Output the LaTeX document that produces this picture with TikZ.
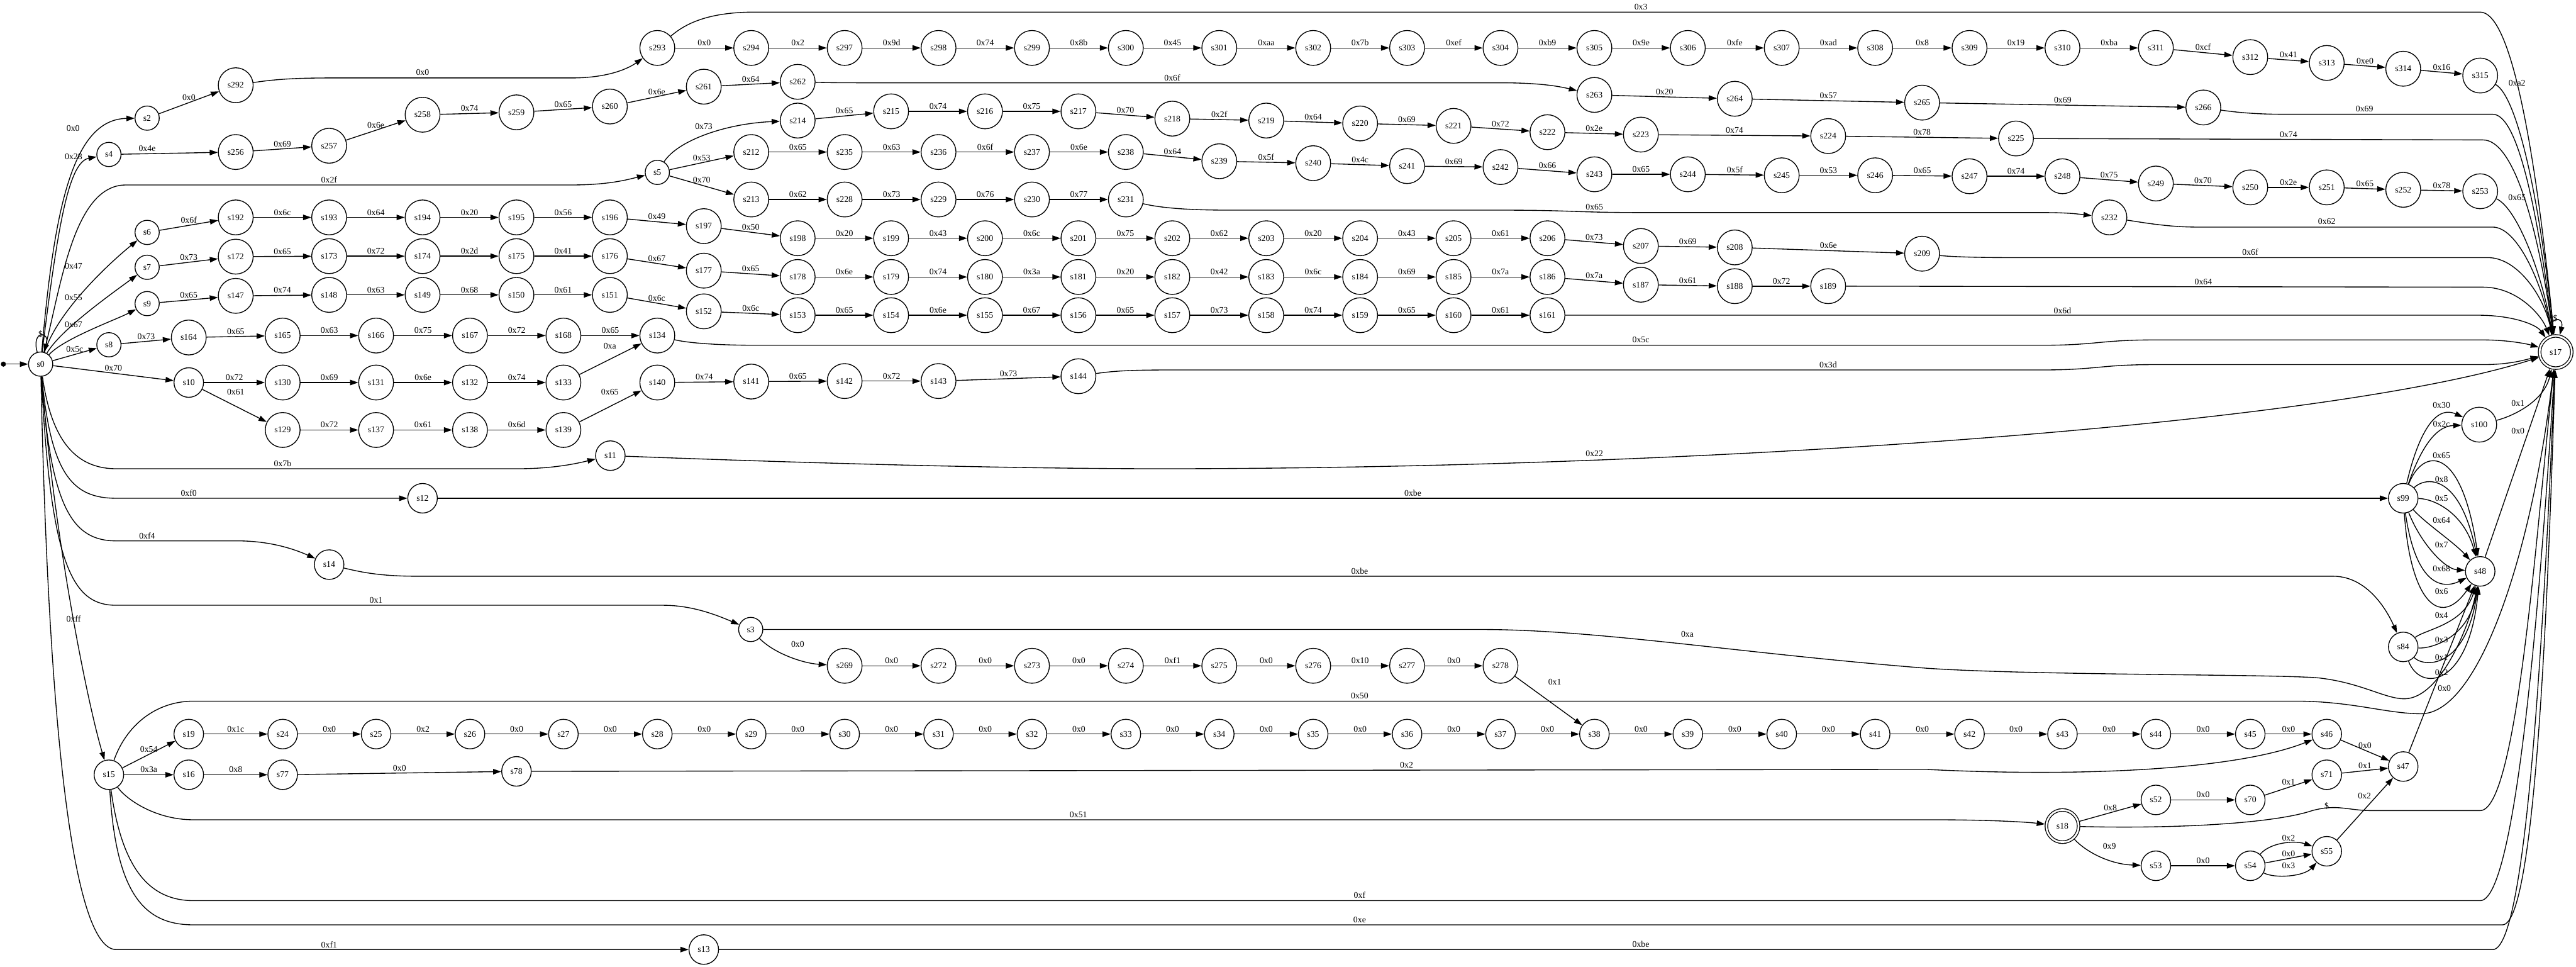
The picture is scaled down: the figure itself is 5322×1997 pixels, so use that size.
\documentclass[tikz,border=0pt]{standalone}
\usepackage{fontspec}
\setmainfont{Liberation Serif}
\usetikzlibrary{arrows.meta}

\tikzset{
  sm/.style={draw, circle, inner sep=0pt, minimum size=0.5cm},
  md/.style={draw, circle, inner sep=0pt, minimum size=0.61cm},
  lg/.style={draw, circle, inner sep=0pt, minimum size=0.72cm},
  fin/.style={draw, circle, double, double distance=1pt, inner sep=0pt, minimum size=0.665cm, outer sep=0.9pt},
  lbl/.style={above, inner sep=1pt},
  lab/.style={inner sep=0pt},
}

\begin{document}
\begin{tikzpicture}[x=0.01cm, y=-0.01cm, line width=0.5pt, >={Triangle[length=4.8pt,width=3.2pt]}, font=\fontsize{5.1}{6}\selectfont]
\useasboundingbox (0,0) rectangle (5322,1997);

% start point and one-digit states
\node[fill, circle, inner sep=0pt, minimum size=3pt] (init) at (7,752) {};
\foreach \n/\x/\y in {0/84/752, 2/304/244, 3/1551/1300, 4/225/319, 5/1358/356, 6/304/480, 7/304/552, 8/225/712, 9/304/627}
  \node[sm] (s\n) at (\x,\y) {s\n};

% two-digit states
\foreach \n/\x/\y in {10/390/790, 11/1261/941, 12/873/1029, 13/1454/1961, 14/680/1166, 15/225/1600, 16/390/1600,
  47/4965/1583, 48/5124/1180, 52/4454/1652, 53/4454/1788, 54/4649/1788, 55/4807/1758, 70/4649/1652, 71/4807/1600,
  77/584/1600, 78/1067/1593, 84/4965/1336, 99/4965/1029}
  \node[md] (s\n) at (\x,\y) {s\n};
\foreach \n/\x in {19/390, 24/584, 25/777, 26/971, 27/1164, 28/1358, 29/1552, 30/1745, 31/1939, 32/2132, 33/2326, 34/2519,
  35/2713, 36/2907, 37/3100, 38/3294, 39/3487, 40/3681, 41/3874, 42/4069, 43/4261, 44/4454, 45/4649, 46/4807}
  \node[md] (s\n) at (\x,1516) {s\n};
\node[fin] (s17) at (5280,727) {s17};
\node[fin] (s18) at (4261,1706) {s18};

% three-digit states
\foreach \n/\x in {293/1358, 294/1552, 297/1745, 298/1939, 299/2132, 300/2326, 301/2519, 302/2713, 303/2907, 304/3100,
  305/3294, 306/3487, 307/3681, 308/3874, 309/4069, 310/4261, 311/4454}
  \node[lg] (s\n) at (\x,99) {s\n};
\foreach \n/\x/\y in {312/4649/118, 313/4807/130, 314/4965/142, 315/5124/156, 292/487/176,
  256/487/314, 257/680/301, 258/873/237, 259/1067/232, 260/1260/220, 261/1454/179, 262/1648/169, 263/3294/196,
  264/3584/204, 265/3971/212, 266/4552/222,
  214/1648/249, 215/1841/230, 216/2035/230, 217/2228/230, 218/2422/245, 219/2616/249, 220/2810/255, 221/3003/260,
  222/3197/273, 223/3390/278, 224/3777/281, 225/4165/286,
  212/1552/314, 235/1745/314, 236/1939/314, 237/2132/314, 238/2326/314, 239/2519/333, 240/2713/337, 241/2907/343,
  242/3100/345, 243/3294/360, 244/3487/360, 245/3681/362, 246/3874/362, 247/4069/364, 248/4261/364, 249/4454/379,
  250/4649/387, 251/4807/387, 252/4965/392, 253/5124/395,
  213/1552/412, 228/1745/412, 229/1939/412, 230/2132/412, 231/2326/412, 232/4358/449,
  192/487/449, 193/680/449, 194/873/449, 195/1067/449, 196/1260/449, 197/1454/467, 198/1648/492, 199/1841/492,
  200/2035/492, 201/2228/492, 202/2422/492, 203/2616/492, 204/2810/492, 205/3003/492, 206/3197/492, 207/3390/508,
  208/3584/511, 209/3971/524,
  172/487/530, 173/680/529, 174/873/529, 175/1067/529, 176/1260/529, 177/1454/559, 178/1648/572, 179/1841/572,
  180/2035/572, 181/2228/572, 182/2422/572, 183/2616/572, 184/2810/572, 185/3003/572, 186/3197/572, 187/3390/588,
  188/3584/591, 189/3777/591,
  147/487/611, 148/680/609, 149/873/609, 150/1067/609, 151/1260/609, 152/1454/643, 153/1648/651, 154/1841/651,
  155/2035/651, 156/2228/651, 157/2422/651, 158/2616/651, 159/2810/651, 160/3003/651, 161/3197/651,
  164/390/697, 165/584/693, 166/777/693, 167/971/693, 168/1164/693, 134/1358/693,
  130/584/790, 131/777/790, 132/971/790, 133/1164/790, 140/1358/790, 141/1552/788, 142/1745/787, 143/1939/787, 144/2228/777,
  129/584/888, 137/777/888, 138/971/888, 139/1164/888,
  269/1745/1375, 272/1939/1375, 273/2132/1375, 274/2326/1375, 275/2519/1375, 276/2713/1375, 277/2907/1375, 278/3100/1375,
  100/5122/877}
  \node[lg] (s\n) at (\x,\y) {s\n};

\begin{scope}[->]
\draw (init) -- (s0);

% straight transitions
\foreach \i/\j/\w in {2/292/0x0,
  293/294/0x0, 294/297/0x2, 297/298/0x9d, 298/299/0x74, 299/300/0x8b, 300/301/0x45, 301/302/0xaa, 302/303/0x7b,
  303/304/0xef, 304/305/0xb9, 305/306/0x9e, 306/307/0xfe, 307/308/0xad, 308/309/0x8, 309/310/0x19, 310/311/0xba,
  311/312/0xcf, 312/313/0x41, 313/314/0xe0, 314/315/0x16,
  256/257/0x69, 257/258/0x6e, 258/259/0x74, 259/260/0x65, 260/261/0x6e, 261/262/0x64, 263/264/0x20, 264/265/0x57, 265/266/0x69,
  5/212/0x53, 5/213/0x70,
  214/215/0x65, 215/216/0x74, 216/217/0x75, 217/218/0x70, 218/219/0x2f, 219/220/0x64, 220/221/0x69, 221/222/0x72,
  222/223/0x2e, 223/224/0x74, 224/225/0x78,
  212/235/0x65, 235/236/0x63, 236/237/0x6f, 237/238/0x6e, 238/239/0x64, 239/240/0x5f, 240/241/0x4c, 241/242/0x69,
  242/243/0x66, 243/244/0x65, 244/245/0x5f, 245/246/0x53, 246/247/0x65, 247/248/0x74, 248/249/0x75, 249/250/0x70,
  250/251/0x2e, 251/252/0x65, 252/253/0x78,
  213/228/0x62, 228/229/0x73, 229/230/0x76, 230/231/0x77,
  6/192/0x6f, 192/193/0x6c, 193/194/0x64, 194/195/0x20, 195/196/0x56, 196/197/0x49, 197/198/0x50, 198/199/0x20,
  199/200/0x43, 200/201/0x6c, 201/202/0x75, 202/203/0x62, 203/204/0x20, 204/205/0x43, 205/206/0x61, 206/207/0x73,
  207/208/0x69, 208/209/0x6e,
  7/172/0x73, 172/173/0x65, 173/174/0x72, 174/175/0x2d, 175/176/0x41, 176/177/0x67, 177/178/0x65, 178/179/0x6e,
  179/180/0x74, 180/181/0x3a, 181/182/0x20, 182/183/0x42, 183/184/0x6c, 184/185/0x69, 185/186/0x7a, 186/187/0x7a,
  187/188/0x61, 188/189/0x72,
  9/147/0x65, 147/148/0x74, 148/149/0x63, 149/150/0x68, 150/151/0x61, 151/152/0x6c, 152/153/0x6c, 153/154/0x65,
  154/155/0x6e, 155/156/0x67, 156/157/0x65, 157/158/0x73, 158/159/0x74, 159/160/0x65, 160/161/0x61,
  0/8/0x5c, 0/10/0x70, 8/164/0x73, 164/165/0x65, 165/166/0x63, 166/167/0x75, 167/168/0x72, 168/134/0x65,
  10/130/0x72, 130/131/0x69, 131/132/0x6e, 132/133/0x74, 129/137/0x72, 137/138/0x61, 138/139/0x6d,
  140/141/0x74, 141/142/0x65, 142/143/0x72, 143/144/0x73, 12/99/0xbe,
  269/272/0x0, 272/273/0x0, 273/274/0x0, 274/275/0xf1, 275/276/0x0, 276/277/0x10, 277/278/0x0,
  19/24/0x1c, 24/25/0x0, 25/26/0x2, 26/27/0x0, 27/28/0x0, 28/29/0x0, 29/30/0x0, 30/31/0x0, 31/32/0x0, 32/33/0x0,
  33/34/0x0, 34/35/0x0, 35/36/0x0, 36/37/0x0, 37/38/0x0, 38/39/0x0, 39/40/0x0, 40/41/0x0, 41/42/0x0, 42/43/0x0,
  43/44/0x0, 44/45/0x0, 45/46/0x0,
  15/19/0x54, 15/16/0x3a, 16/77/0x8, 77/78/0x0,
  46/47/0x0, 70/71/0x1, 71/47/0x1, 52/70/0x0, 18/52/0x8, 53/54/0x0, 54/55/0x0}
  \draw (s\i) -- node[lbl] {\w} (s\j);

% straight transitions with shifted labels
\draw (s4) -- (s256);
\draw (s10) -- (s129);
\draw (s133) -- (s134);
\draw (s139) -- (s140);
\draw (s278) -- (s38);
\draw (s55) -- (s47);
\draw (s47) -- (s48);
\draw (s48) -- (s17);

% transitions out of s0
\draw (s0) .. controls +(-20,-70) and +(20,-70) .. (s0);
\draw (s0) .. controls (112,430) and (150,246) .. (s2);
\draw (s0) .. controls (118,480) and (140,335) .. (s4);
\draw (s0) .. controls (125,600) and (150,382) .. (260,382) -- (1180,382) .. controls (1260,382) and (1300,370) .. (s5);
\draw (s0) .. controls (120,640) and (230,540) .. (s6);
\draw (s0) .. controls (125,680) and (240,600) .. (s7);
\draw (s0) .. controls (130,700) and (240,660) .. (s9);
\draw (s0) .. controls (105,900) and (150,968) .. (240,968) -- (1070,968) .. controls (1150,968) and (1200,955) .. (s11);
\draw (s0) .. controls (105,980) and (150,1029) .. (240,1029) -- (s12);
\draw (s0) .. controls (105,1050) and (150,1117) .. (240,1117) -- (490,1117) .. controls (560,1117) and (610,1135) .. (s14);
\draw (s0) .. controls (105,1170) and (150,1250) .. (240,1250) -- (1370,1250) .. controls (1430,1250) and (1480,1270) .. (s3);
\draw (s0) .. controls (110,1100) and (180,1450) .. (s15);
\draw (s0) .. controls (100,1500) and (150,1961) .. (240,1961) -- (s13);

% other bent transitions
\draw (s292) .. controls (560,165) and (600,161) .. (680,161) -- (1180,161) .. controls (1260,161) and (1300,140) .. (s293);
\draw (s262) .. controls (1720,171) and (1760,171) .. (1840,171) -- (3100,171) .. controls (3180,171) and (3220,178) .. (s263);
\draw (s5) .. controls (1400,290) and (1500,255) .. (s214);
\draw (s231) .. controls (2400,430) and (2460,434) .. (2540,434) -- (3100,434) .. controls (3250,434) and (3250,439) .. (3400,439) -- (4220,439) .. controls (4280,439) and (4300,443) .. (s232);
\draw (s14) .. controls (740,1180) and (780,1190) .. (860,1190) -- (4820,1190) .. controls (4900,1190) and (4940,1280) .. (s84);
\draw (s3) .. controls (1600,1350) and (1660,1370) .. (s269);
\draw (s3) -- (3060,1300) .. controls (3300,1300) and (3600,1350) .. (3980,1380) .. controls (4200,1395) and (4700,1392) .. (4790,1400) .. controls (4880,1410) and (4930,1445) .. (4970,1443) .. controls (5040,1440) and (5100,1300) .. (s48);
\draw (s78) -- (3980,1589) .. controls (4300,1605) and (4620,1590) .. (s46);
\draw (s15) .. controls (260,1650) and (320,1693) .. (400,1693) -- (4000,1693) .. controls (4100,1693) and (4180,1697) .. (s18);
\draw (s18) .. controls (4310,1760) and (4360,1785) .. (s53);
\draw (s54) .. controls (4690,1740) and (4740,1735) .. (s55);
\draw (s54) .. controls (4700,1815) and (4760,1810) .. (s55);

% into s100 and s48
\draw (s99) .. controls (4995,900) and (5030,835) .. (s100);
\draw (s99) .. controls (5000,930) and (5030,880) .. (s100);
\draw (s99) .. controls (5005,925) and (5085,915) .. (s48);
\draw (s99) .. controls (5010,985) and (5080,975) .. (s48);
\draw (s99) .. controls (5030,1030) and (5090,1060) .. (s48);
\draw (s99) .. controls (5010,1080) and (5070,1120) .. (s48);
\draw (s99) .. controls (5000,1120) and (5050,1175) .. (s48);
\draw (s99) .. controls (4990,1200) and (5040,1220) .. (s48);
\draw (s99) .. controls (4980,1240) and (5040,1300) .. (s48);
\draw (s84) .. controls (5010,1300) and (5090,1290) .. (s48);
\draw (s84) .. controls (5020,1340) and (5100,1320) .. (s48);
\draw (s84) .. controls (5010,1380) and (5095,1380) .. (s48);
\draw (s84) .. controls (5000,1430) and (5100,1420) .. (s48);

% into s17 from above
\draw (s17) .. controls +(-18,-75) and +(18,-75) .. (s17);
\draw (s293) .. controls (1420,45) and (1470,25) .. (1560,25) -- (5124,25) .. controls (5185,25) and (5235,280) .. (s17);
\draw (s315) .. controls (5200,200) and (5245,400) .. (s17);
\draw (s266) .. controls (4620,232) and (4660,236) .. (4720,236) -- (5150,236) .. controls (5200,236) and (5240,420) .. (s17);
\draw (s225) -- (5130,289) .. controls (5190,289) and (5240,450) .. (s17);
\draw (s253) .. controls (5200,430) and (5250,560) .. (s17);
\draw (s232) .. controls (4430,460) and (4480,469) .. (4540,469) -- (5150,469) .. controls (5200,469) and (5250,580) .. (s17);
\draw (s209) .. controls (4030,530) and (4080,532) .. (4150,532) -- (5140,532) .. controls (5200,532) and (5255,610) .. (s17);
\draw (s189) -- (5130,593) .. controls (5200,593) and (5250,650) .. (s17);
\draw (s161) -- (5120,651) .. controls (5190,651) and (5240,670) .. (s17);
\draw (s134) .. controls (1420,708) and (1480,713) .. (1560,713) -- (4220,713) .. controls (4330,713) and (4340,702) .. (4450,702) -- (5130,702) .. controls (5180,702) and (5220,710) .. (s17);
\draw (s144) .. controls (2300,766) and (2340,764) .. (2420,764) -- (4220,764) .. controls (4330,764) and (4340,753) .. (4450,753) -- (5130,753) .. controls (5180,753) and (5210,745) .. (s17);
\draw (s11) .. controls (1500,950) and (2000,968) .. (2400,968) .. controls (3500,968) and (4800,880) .. (s17);

% into s17 from below
\draw (s100) .. controls (5190,860) and (5255,830) .. (s17);
\draw (s15) .. controls (260,1500) and (320,1448) .. (400,1448) -- (4742,1448) .. controls (4860,1448) and (4930,1474) .. (5002,1474) .. controls (5120,1474) and (5230,1150) .. (s17);
\draw (s18) .. controls (4500,1712) and (4700,1700) .. (4777,1674) .. controls (4830,1660) and (4850,1674) .. (4900,1674) -- (5124,1674) .. controls (5200,1674) and (5240,1100) .. (s17);
\draw (s15) .. controls (250,1780) and (300,1860) .. (400,1860) -- (5124,1860) .. controls (5200,1860) and (5250,1200) .. (s17);
\draw (s15) .. controls (240,1850) and (300,1910) .. (400,1910) -- (5170,1910) .. controls (5240,1910) and (5265,1200) .. (s17);
\draw (s13) -- (5150,1961) .. controls (5220,1961) and (5255,1300) .. (s17);
\end{scope}

% labels of bent transitions
\node[lab] (l0a) at (84,690) {\$};
\node[lab] (l0b) at (151,265) {0x0};
\node[lab] (l0c) at (152,323) {0x28};
\node[lab] (l0d) at (680,371) {0x2f};
\node[lab] (l0e) at (152,550) {0x47};
\node[lab] (l0f) at (152,614) {0x55};
\node[lab] (l0g) at (152,671) {0x67};
\node[lab] (l0h) at (584,957) {0x7b};
\node[lab] (l0i) at (390,1018) {0xf0};
\node[lab] (l0j) at (304,1106) {0xf4};
\node[lab] (l0k) at (777,1240) {0x1};
\node[lab] (l0l) at (152,1278) {0xff};
\node[lab] (l0m) at (680,1951) {0xf1};
\node[lab] (l4) at (304,306) {0x4e};
\node[lab] (l10) at (487,810) {0x61};
\node[lab] (l133) at (1260,714) {0xa};
\node[lab] (l139) at (1260,810) {0x65};
\node[lab] (l278) at (3212,1409) {0x1};
\node[lab] (l55) at (4885,1644) {0x2};
\node[lab] (l47) at (5050,1421) {0x0};
\node[lab] (l48) at (5202,890) {0x0};
\node[lab] (l292) at (873,150) {0x0};
\node[lab] (l262) at (2422,161) {0x6f};
\node[lab] (l5) at (1454,261) {0x73};
\node[lab] (l231) at (3294,428) {0x65};
\node[lab] (l14) at (2809,1180) {0xbe};
\node[lab] (l3a) at (1648,1330) {0x0};
\node[lab] (l3b) at (3486,1310) {0xa};
\node[lab] (l78) at (2906,1580) {0x2};
\node[lab] (l15a) at (2228,1683) {0x51};
\node[lab] (l18) at (4358,1748) {0x9};
\node[lab] (l54a) at (4728,1730) {0x2};
\node[lab] (l54b) at (4728,1788) {0x3};
\node[lab] (l99a) at (5044,837) {0x30};
\node[lab] (l99b) at (5044,876) {0x2c};
\node[lab] (l99c) at (5044,941) {0x65};
\node[lab] (l99d) at (5044,990) {0x8};
\node[lab] (l99e) at (5044,1029) {0x5};
\node[lab] (l99f) at (5044,1074) {0x64};
\node[lab] (l99g) at (5044,1125) {0x7};
\node[lab] (l99h) at (5044,1174) {0x68};
\node[lab] (l99i) at (5044,1221) {0x6};
\node[lab] (l84a) at (5044,1271) {0x4};
\node[lab] (l84b) at (5044,1321) {0x3};
\node[lab] (l84c) at (5044,1358) {0x1};
\node[lab] (l84d) at (5044,1389) {0x2};
\node[lab] (l17) at (5279,657) {\$};
\node[lab] (l293) at (3390,14) {0x3};
\node[lab] (l315) at (5200,172) {0xa2};
\node[lab] (l266) at (4885,225) {0x69};
\node[lab] (l225) at (4728,278) {0x74};
\node[lab] (l253) at (5200,408) {0x65};
\node[lab] (l232) at (4807,457) {0x62};
\node[lab] (l209) at (4649,520) {0x6f};
\node[lab] (l189) at (4552,582) {0x64};
\node[lab] (l161) at (4261,641) {0x6d};
\node[lab] (l134) at (3390,702) {0x5c};
\node[lab] (l144) at (3777,753) {0x3d};
\node[lab] (l11) at (3294,937) {0x22};
\node[lab] (l100) at (5202,833) {0x1};
\node[lab] (l15b) at (2809,1437) {0x50};
\node[lab] (l18b) at (4807,1664) {\$};
\node[lab] (l15c) at (2809,1849) {0xf};
\node[lab] (l15d) at (2809,1900) {0xe};
\node[lab] (l13) at (3390,1950) {0xbe};

\end{tikzpicture}
\end{document}
